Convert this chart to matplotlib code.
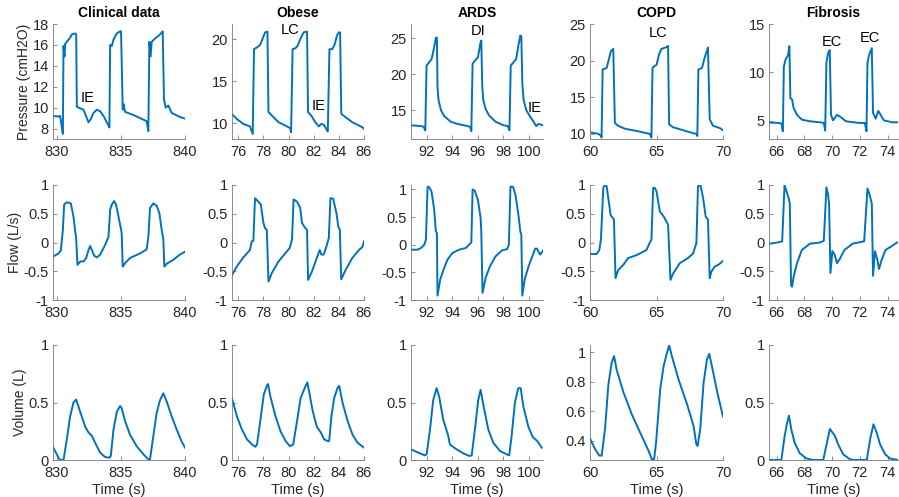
import numpy as np
import matplotlib.pyplot as plt
from matplotlib.ticker import FuncFormatter

plt.rcParams['font.family'] = ['Liberation Sans', 'DejaVu Sans']
plt.rcParams['axes.unicode_minus'] = False

# ---- data: (time, value) breakpoints ----
titles = ['Clinical data', 'Obese', 'ARDS', 'COPD', 'Fibrosis']
row_labels = ['Pressure (cmH2O)', 'Flow (L/s)', 'Volume (L)']

clin_pressure = [(829.69, 9.2), (830.13, 9.15), (830.26, 9.2), (830.39, 8.1), (830.47, 7.5),
                 (830.52, 15.9), (830.6, 14.9), (830.65, 16.1), (830.78, 16.3), (831.04, 16.7),
                 (831.17, 17.0), (831.43, 17.1), (831.51, 17.0), (831.56, 10.1), (831.69, 10.0),
                 (832.08, 9.8), (832.47, 8.6), (832.65, 8.9), (832.86, 9.5), (833.12, 9.8),
                 (833.38, 9.65), (833.64, 9.2), (834.03, 8.3), (834.1, 8.1), (834.16, 16.0),
                 (834.29, 15.9), (834.42, 16.5), (834.68, 17.1), (834.94, 17.3), (835.01, 17.3),
                 (835.14, 9.8), (835.22, 10.3), (835.32, 9.6), (835.97, 9.3), (837.01, 8.7),
                 (837.14, 7.75), (837.22, 16.3), (837.32, 14.9), (837.4, 16.3), (837.66, 16.6),
                 (838.05, 17.0), (838.26, 17.3), (838.36, 10.8), (838.49, 10.0), (838.7, 10.2),
                 (838.96, 9.5), (839.61, 9.1), (840.0, 8.95)]
obese_pressure = [(75.47, 11.1), (75.87, 10.5), (76.4, 9.9), (76.93, 9.6), (77.0, 9.3), (77.15, 8.7),
                  (77.25, 18.8), (77.47, 19.0), (77.73, 19.3), (77.95, 20.1), (78.13, 20.8),
                  (78.32, 20.9), (78.4, 11.3), (78.67, 10.9), (79.2, 10.1), (79.87, 9.6),
                  (80.13, 9.4), (80.2, 8.9), (80.32, 18.8), (80.53, 18.9), (80.72, 19.2),
                  (80.93, 20.0), (81.2, 20.8), (81.47, 20.9), (81.55, 11.3), (81.8, 10.9),
                  (82.13, 10.1), (82.4, 9.6), (82.6, 9.9), (82.8, 9.8), (83.0, 9.3), (83.12, 9.0),
                  (83.25, 18.8), (83.47, 18.8), (83.65, 19.3), (83.87, 20.5), (84.0, 20.8),
                  (84.1, 20.8), (84.19, 11.1), (84.53, 10.7), (85.07, 10.1), (85.6, 9.7),
                  (85.87, 9.5), (86.0, 9.3)]
ards_pressure = [(90.8, 12.9), (91.53, 12.8), (91.74, 12.7), (91.87, 12.2), (91.97, 21.2),
                 (92.18, 21.7), (92.36, 22.1), (92.57, 23.8), (92.7, 25.1), (92.78, 25.1),
                 (92.83, 18.2), (92.91, 16.4), (93.1, 15.0), (93.35, 14.2), (93.87, 13.4),
                 (94.39, 13.1), (95.17, 12.8), (95.38, 12.7), (95.48, 12.1), (95.58, 21.5),
                 (95.82, 22.0), (96.0, 22.4), (96.2, 24.4), (96.26, 24.7), (96.34, 18.2),
                 (96.42, 16.4), (96.6, 15.2), (96.86, 14.3), (97.38, 13.4), (98.03, 12.9),
                 (98.34, 12.8), (98.47, 12.2), (98.57, 21.2), (98.8, 21.7), (98.99, 22.1),
                 (99.19, 24.2), (99.32, 25.4), (99.4, 25.3), (99.48, 18.7), (99.58, 16.4),
                 (99.79, 15.0), (100.1, 14.1), (100.36, 13.4), (100.57, 12.8), (100.75, 13.1),
                 (101.1, 12.9)]
copd_pressure = [(60.0, 10.2), (60.37, 10.1), (60.62, 10.0), (60.8, 9.8), (60.87, 9.5),
                 (60.95, 18.8), (61.12, 18.9), (61.25, 19.0), (61.45, 20.4), (61.57, 21.3),
                 (61.75, 21.6), (61.87, 11.5), (62.12, 11.1), (62.62, 10.7), (63.5, 10.4),
                 (64.25, 10.1), (64.5, 10.0), (64.62, 9.5), (64.7, 19.0), (64.87, 19.3),
                 (65.0, 19.4), (65.2, 20.9), (65.37, 21.6), (65.7, 21.8), (65.87, 22.0),
                 (65.95, 11.3), (66.25, 10.9), (67.0, 10.5), (67.75, 10.1), (68.0, 10.0),
                 (68.07, 9.7), (68.15, 18.8), (68.42, 19.0), (68.62, 20.4), (68.87, 21.8),
                 (69.0, 12.0), (69.25, 11.1), (69.75, 10.8), (70.0, 10.5)]
fib_pressure = [(65.53, 4.8), (66.17, 4.76), (66.35, 4.7), (66.45, 3.9), (66.52, 10.6),
                (66.64, 11.3), (66.83, 11.8), (66.92, 12.7), (66.99, 7.3), (67.11, 7.2),
                (67.23, 6.3), (67.47, 5.6), (67.82, 5.1), (68.41, 4.93), (69.12, 4.83),
                (69.4, 4.76), (69.5, 3.97), (69.59, 11.0), (69.71, 12.0), (69.83, 12.3),
                (69.92, 5.6), (70.07, 5.03), (70.35, 5.6), (70.59, 5.4), (71.0, 4.93),
                (71.96, 4.76), (72.36, 4.76), (72.48, 3.9), (72.55, 11.0), (72.67, 11.8),
                (72.86, 12.5), (72.95, 5.8), (73.14, 5.2), (73.33, 6.0), (73.5, 5.6),
                (73.73, 5.03), (74.32, 4.83), (74.68, 4.83)]

clin_flow = [(829.74, -0.24), (830.13, -0.19), (830.31, -0.14), (830.47, 0.22), (830.57, 0.66),
             (830.78, 0.70), (831.09, 0.68), (831.3, 0.45), (831.43, 0.19), (831.5, 0.10),
             (831.61, -0.39), (831.82, -0.33), (832.08, -0.33), (832.29, -0.27), (832.47, -0.13),
             (832.6, -0.06), (832.73, -0.13), (832.91, -0.23), (833.12, -0.26), (833.38, -0.21),
             (833.77, -0.04), (834.03, 0.10), (834.16, 0.57), (834.29, 0.66), (834.47, 0.72),
             (834.62, 0.66), (834.81, 0.45), (834.99, 0.25), (835.06, 0.16), (835.14, -0.42),
             (835.32, -0.36), (835.71, -0.27), (836.49, -0.19), (837.01, -0.12), (837.14, 0.10),
             (837.27, 0.60), (837.53, 0.68), (837.79, 0.64), (838.0, 0.51), (838.18, 0.22),
             (838.31, 0.05), (838.39, -0.42), (838.57, -0.37), (839.09, -0.30), (839.61, -0.21),
             (840.0, -0.16)]
obese_flow = [(75.47, -0.58), (75.87, -0.42), (76.4, -0.26), (76.93, -0.13), (77.07, 0.02),
              (77.2, 0.03), (77.33, 0.77), (77.6, 0.71), (77.79, 0.66), (78.0, 0.34),
              (78.13, 0.25), (78.27, 0.22), (78.4, -0.68), (78.67, -0.53), (79.2, -0.33),
              (79.73, -0.19), (80.08, -0.10), (80.27, 0.05), (80.4, 0.75), (80.67, 0.71),
              (80.93, 0.60), (81.07, 0.34), (81.33, 0.25), (81.47, 0.22), (81.55, -0.65),
              (81.87, -0.50), (82.21, -0.29), (82.48, -0.13), (82.61, -0.21), (82.8, -0.21),
              (83.01, -0.07), (83.2, 0.08), (83.33, 0.77), (83.55, 0.76), (83.81, 0.51),
              (83.95, 0.28), (84.08, 0.22), (84.19, -0.64), (84.53, -0.48), (85.07, -0.27),
              (85.6, -0.13), (85.87, -0.08), (86.0, 0.02)]
ards_flow = [(90.8, -0.09), (91.27, -0.09), (91.53, -0.06), (91.79, 0.0), (91.92, 0.09),
             (92.05, 1.05), (92.18, 1.04), (92.36, 0.96), (92.57, 0.63), (92.7, 0.24),
             (92.78, 0.21), (92.83, -0.92), (93.04, -0.63), (93.3, -0.45), (93.61, -0.27),
             (94.0, -0.15), (94.52, -0.09), (95.04, -0.06), (95.38, 0.02), (95.48, 0.04),
             (95.58, 1.0), (95.74, 0.98), (96.0, 0.81), (96.21, 0.48), (96.26, 0.24),
             (96.36, -0.87), (96.6, -0.6), (96.94, -0.39), (97.38, -0.21), (97.9, -0.10),
             (98.29, -0.08), (98.42, 0.0), (98.55, 1.05), (98.75, 1.05), (98.94, 0.90),
             (99.19, 0.51), (99.32, 0.24), (99.4, 0.18), (99.48, -0.92), (99.66, -0.63),
             (99.97, -0.39), (100.31, -0.18), (100.49, -0.07), (100.62, -0.07),
             (100.88, -0.18), (101.09, -0.11)]
copd_flow = [(60.0, -0.20), (60.5, -0.2), (60.7, -0.13), (60.82, 0.05), (61.0, 0.95),
             (61.12, 1.0), (61.25, 0.98), (61.37, 0.78), (61.55, 0.48), (61.7, 0.43),
             (61.8, 0.40), (61.92, -0.62), (62.12, -0.48), (62.5, -0.39), (62.87, -0.27),
             (63.5, -0.22), (64.25, -0.13), (64.5, 0.0), (64.62, 0.05), (64.75, 0.95),
             (64.87, 0.95), (65.0, 0.89), (65.25, 0.54), (65.55, 0.45), (65.87, 0.31),
             (66.05, -0.65), (66.25, -0.54), (66.75, -0.36), (67.37, -0.27), (67.75, -0.19),
             (68.0, -0.01), (68.12, 0.98), (68.3, 1.0), (68.5, 0.78), (68.7, 0.45),
             (68.87, 0.40), (69.0, -0.62), (69.12, -0.51), (69.37, -0.42), (69.7, -0.38),
             (70.0, -0.32)]
fib_flow = [(65.53, -0.02), (66.05, 0.0), (66.4, 0.02), (66.57, 1.0), (66.71, 0.89),
            (66.87, 0.77), (66.95, 0.68), (67.04, -0.74), (67.11, -0.77), (67.23, -0.59),
            (67.47, -0.36), (67.82, -0.13), (68.41, -0.02), (69.12, 0.0), (69.4, 0.03),
            (69.59, 0.96), (69.71, 0.83), (69.78, 0.68), (69.88, -0.53), (70.02, -0.15),
            (70.18, -0.21), (70.35, -0.36), (70.54, -0.29), (70.89, -0.13), (71.48, -0.02),
            (72.31, 0.02), (72.55, 0.94), (72.67, 0.86), (72.86, 0.68), (72.95, -0.58),
            (73.09, -0.15), (73.26, -0.30), (73.38, -0.46), (73.57, -0.30), (73.85, -0.13),
            (74.32, -0.06), (74.68, 0.0)]

clin_volume = [(829.69, 0.115), (830.13, 0.02), (830.26, 0.0), (830.52, 0.0), (830.78, 0.18),
               (831.04, 0.38), (831.3, 0.50), (831.51, 0.525), (831.82, 0.42), (832.21, 0.29),
               (832.47, 0.24), (832.73, 0.21), (832.99, 0.15), (833.38, 0.063), (833.77, 0.026),
               (834.1, 0.02), (834.21, 0.035), (834.42, 0.265), (834.68, 0.42), (834.94, 0.47),
               (835.06, 0.45), (835.32, 0.34), (835.71, 0.22), (836.23, 0.12), (836.75, 0.05),
               (837.14, 0.006), (837.27, 0.006), (837.53, 0.21), (837.79, 0.41), (838.05, 0.52),
               (838.31, 0.58), (838.57, 0.51), (838.96, 0.38), (839.35, 0.265), (839.74, 0.16),
               (840.0, 0.107)]
obese_volume = [(75.49, 0.54), (75.89, 0.38), (76.29, 0.265), (76.69, 0.18), (77.09, 0.135),
                (77.36, 0.115), (77.49, 0.135), (77.76, 0.35), (78.03, 0.57), (78.29, 0.65),
                (78.37, 0.66), (78.56, 0.55), (78.96, 0.38), (79.36, 0.25), (79.76, 0.165),
                (80.11, 0.12), (80.37, 0.135), (80.69, 0.35), (80.96, 0.54), (81.28, 0.625),
                (81.49, 0.675), (81.63, 0.60), (81.89, 0.44), (82.24, 0.29), (82.56, 0.24),
                (82.83, 0.18), (83.09, 0.165), (83.23, 0.165), (83.41, 0.38), (83.63, 0.54),
                (83.89, 0.625), (84.03, 0.645), (84.29, 0.50), (84.69, 0.34), (85.09, 0.22),
                (85.49, 0.15), (86.0, 0.107)]
ards_volume = [(90.8, 0.09), (91.45, 0.058), (91.84, 0.04), (91.98, 0.05), (92.24, 0.265),
               (92.49, 0.52), (92.76, 0.625), (92.96, 0.55), (93.28, 0.35), (93.67, 0.21),
               (93.8, 0.135), (94.33, 0.092), (94.85, 0.058), (95.32, 0.035), (95.51, 0.04),
               (95.76, 0.265), (96.02, 0.52), (96.21, 0.61), (96.42, 0.48), (96.81, 0.265),
               (97.2, 0.15), (97.73, 0.078), (98.25, 0.05), (98.45, 0.04), (98.64, 0.21),
               (98.9, 0.50), (99.16, 0.625), (99.35, 0.625), (99.55, 0.47), (99.95, 0.29),
               (100.29, 0.20), (100.65, 0.165), (101.0, 0.107)]
copd_volume = [(60.0, 0.416), (60.38, 0.344), (60.7, 0.30), (60.88, 0.30), (61.13, 0.48),
               (61.38, 0.78), (61.63, 0.93), (61.81, 0.975), (62.01, 0.88), (62.51, 0.73),
               (63.14, 0.58), (63.77, 0.456), (64.4, 0.333), (64.65, 0.276), (64.82, 0.276),
               (64.97, 0.39), (65.28, 0.75), (65.53, 0.905), (65.78, 0.995), (65.95, 1.047),
               (66.16, 0.973), (66.66, 0.816), (67.29, 0.65), (67.79, 0.50), (67.99, 0.378),
               (68.09, 0.366), (68.29, 0.48), (68.54, 0.793), (68.79, 0.95), (68.97, 0.99),
               (69.17, 0.905), (69.55, 0.737), (70.0, 0.564)]
fib_volume = [(65.44, 0.0), (66.34, 0.0), (66.58, 0.21), (66.75, 0.32), (66.89, 0.386),
              (67.06, 0.265), (67.3, 0.15), (67.67, 0.058), (68.15, 0.014), (68.63, 0.0),
              (69.36, 0.0), (69.6, 0.135), (69.84, 0.27), (69.96, 0.25), (70.2, 0.21),
              (70.44, 0.135), (70.8, 0.049), (71.29, 0.006), (71.53, 0.0), (72.5, 0.0),
              (72.74, 0.18), (72.98, 0.31), (73.22, 0.236), (73.46, 0.135), (73.83, 0.049),
              (74.19, 0.012), (74.79, 0.0)]

traces = [[clin_pressure, obese_pressure, ards_pressure, copd_pressure, fib_pressure],
          [clin_flow, obese_flow, ards_flow, copd_flow, fib_flow],
          [clin_volume, obese_volume, ards_volume, copd_volume, fib_volume]]

xlims = [(829.7, 840), (75.5, 86), (90.75, 101.1), (60, 70), (65.45, 74.75)]
xticks = [[830, 835, 840], [76, 78, 80, 82, 84, 86], [92, 94, 96, 98, 100],
          [60, 65, 70], [66, 68, 70, 72, 74]]
ylims = [[(7, 18), (8.1, 21.8), (11, 27), (9.3, 25), (3.1, 15)],
         [(-1, 1), (-1, 1), (-1, 1.08), (-1, 1), (-1, 1)],
         [(0, 1), (0, 1), (0, 1), (0.27, 1.05), (0, 1)]]
yticks = [[[8, 10, 12, 14, 16, 18], [10, 15, 20], [15, 20, 25], [10, 15, 20, 25], [5, 10, 15]],
          [[-1, -0.5, 0, 0.5, 1]] * 5,
          [[0, 0.5, 1], [0, 0.5, 1], [0, 0.5, 1], [0.4, 0.6, 0.8, 1], [0, 0.5, 1]]]

# (column, text, time, pressure)
notes = [(0, 'IE', 832.4, 10.9), (1, 'LC', 80.1, 21.1), (1, 'IE', 82.4, 12.0),
         (2, 'DI', 96.0, 26.0), (2, 'IE', 100.4, 15.3), (3, 'LC', 65.1, 23.8),
         (4, 'EC', 70.0, 13.1), (4, 'EC', 72.7, 13.5)]

# ---- layout (pixels of the 899x497 canvas) ----
W, H = 899, 497
lefts = [53, 232, 411, 590, 769]
widths = [132, 132, 132, 133, 129]
tops = [24, 185, 345]
ax_h = 115

blue = '#0072BD'
gray = '#262626'

fig = plt.figure(figsize=(W / 100, H / 100), dpi=100)
fmt = FuncFormatter(lambda v, p: '%g' % v)

for r in range(3):
    for c in range(5):
        ax = fig.add_axes([lefts[c] / W, (H - tops[r] - ax_h) / H, widths[c] / W, ax_h / H])
        pts = np.array(traces[r][c])
        ax.plot(pts[:, 0], pts[:, 1], color=blue, lw=1.4)
        ax.set_xlim(*xlims[c])
        ax.set_ylim(*ylims[r][c])
        ax.set_xticks(xticks[c])
        ax.set_yticks(yticks[r][c])
        ax.xaxis.set_major_formatter(fmt)
        ax.yaxis.set_major_formatter(fmt)
        for s in ['top', 'right']:
            ax.spines[s].set_visible(False)
        for s in ['left', 'bottom']:
            ax.spines[s].set_color('#7a7a7a')
            ax.spines[s].set_linewidth(0.6)
        ax.tick_params(direction='in', length=3, width=0.6, color='#7a7a7a',
                       labelsize=10.5, labelcolor=gray)
        ax.tick_params(axis='x', pad=4.5)
        ax.tick_params(axis='y', pad=3)
        if r == 0:
            ax.set_title(titles[c], fontsize=10, fontweight='bold', pad=5, color='black')
            for col, txt, tx, ty in notes:
                if col == c:
                    ax.text(tx, ty, txt, fontsize=10.5, ha='center', va='center', color='black')
        if c == 0:
            ax.set_ylabel(row_labels[r], fontsize=10, color=gray, labelpad=1)
        if r == 2:
            ax.set_xlabel('Time (s)', fontsize=10.5, color=gray, labelpad=2)

fig.savefig('out.png', dpi=100)
